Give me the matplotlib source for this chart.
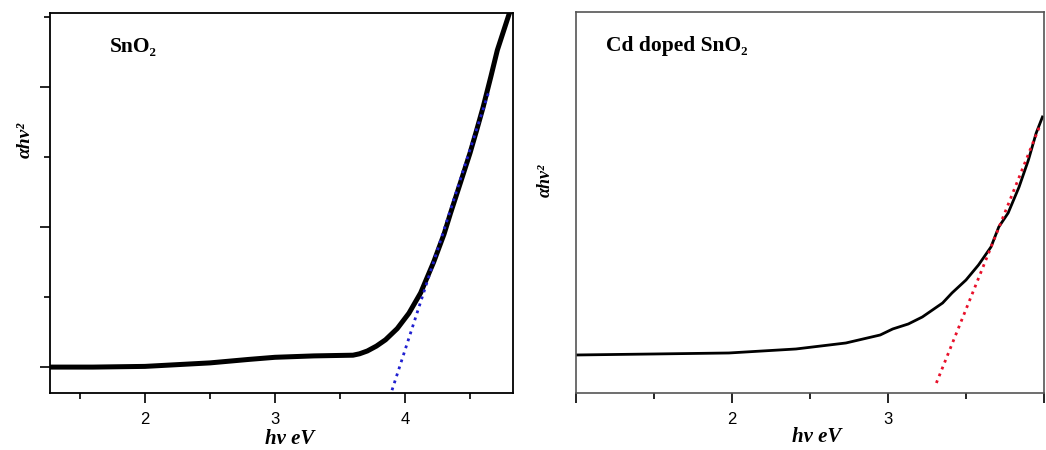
import matplotlib
matplotlib.use("Agg")
import matplotlib.pyplot as plt
from matplotlib.ticker import MultipleLocator, NullFormatter, FixedLocator

# SnO2 Tauc curve (arbitrary y units)
sno2_x = [1.27, 1.6, 2.0, 2.3, 2.5, 2.8, 3.0, 3.3, 3.6, 3.65, 3.71, 3.78, 3.85,
          3.94, 4.03, 4.12, 4.22, 4.30, 4.35, 4.42, 4.50, 4.55, 4.60, 4.66,
          4.71, 4.81]
sno2_y = [0.0, 0.0, 0.01, 0.04, 0.06, 0.11, 0.14, 0.16, 0.17, 0.19, 0.23, 0.30,
          0.39, 0.55, 0.77, 1.06, 1.50, 1.90, 2.20, 2.60, 3.06, 3.38, 3.71,
          4.15, 4.53, 5.10]
sno2_fit_x = [3.90, 4.64]
sno2_fit_y = [-0.33, 3.91]

# Cd doped SnO2 Tauc curve
cd_x = [1.0, 1.5, 1.98, 2.41, 2.73, 2.95, 3.03, 3.13, 3.22, 3.35, 3.41, 3.50,
        3.58, 3.66, 3.71, 3.77, 3.84, 3.90, 3.95, 3.99]
cd_y = [0.38, 0.39, 0.40, 0.44, 0.50, 0.58, 0.64, 0.69, 0.76, 0.90, 1.00, 1.13,
        1.28, 1.46, 1.66, 1.80, 2.06, 2.33, 2.60, 2.76]
cd_fit_x = [3.31, 3.97]
cd_fit_y = [0.10, 2.66]

cd_ticks = [1, 2, 3, 4]
cd_ticklabels = ["", "2", "3", ""]

serif = ["Liberation Serif", "DejaVu Serif"]
plt.rcParams["font.family"] = ["Liberation Sans", "DejaVu Sans"]

fig = plt.figure(figsize=(10.46, 4.5), dpi=100)
ax1 = fig.add_axes([0.0478, 0.1267, 0.4426, 0.8444])
ax2 = fig.add_axes([0.5507, 0.1267, 0.4474, 0.8467])

# left panel
ax1.plot(sno2_x, sno2_y, color="black", lw=3.6, solid_capstyle="round",
         solid_joinstyle="round", zorder=2)
ax1.plot(sno2_fit_x, sno2_fit_y, color="#1f1fd0", lw=2.0, ls=":", zorder=3)
ax1.set_xlim(1.27, 4.83)
ax1.set_ylim(-0.37, 5.06)
ax1.xaxis.set_major_locator(MultipleLocator(1))
ax1.xaxis.set_minor_locator(MultipleLocator(0.5))
ax1.yaxis.set_major_locator(MultipleLocator(2))
ax1.yaxis.set_minor_locator(MultipleLocator(1))
ax1.yaxis.set_major_formatter(NullFormatter())
ax1.tick_params(axis="both", which="major", length=7, width=1.2, direction="out")
ax1.tick_params(axis="both", which="minor", length=4, width=1.2, direction="out")
ax1.tick_params(axis="x", labelsize=12, pad=7)
for sp in ax1.spines.values():
    sp.set_linewidth(1.3)
ax1.text(0.13, 0.91, "SnO₂", transform=ax1.transAxes, fontsize=15.5,
         fontweight="bold", family=serif, va="center")

# right panel
ax2.plot(cd_x, cd_y, color="black", lw=2.0, solid_joinstyle="round", zorder=2)
ax2.plot(cd_fit_x, cd_fit_y, color="#e8102a", lw=2.0, ls=":", zorder=3)
ax2.set_xlim(1.0, 3.99)
ax2.set_ylim(0, 3.81)
ax2.set_xticks(cd_ticks)
ax2.set_xticklabels(cd_ticklabels)
ax2.xaxis.set_minor_locator(FixedLocator([1.5, 2.5, 3.5]))
ax2.set_yticks([])
ax2.tick_params(axis="x", which="major", length=7, width=1.2, labelsize=12, pad=7)
ax2.tick_params(axis="x", which="minor", length=4, width=1.2)
for sp in ax2.spines.values():
    sp.set_linewidth(1.2)
    sp.set_color("#555555")
ax2.text(0.065, 0.91, "Cd doped SnO₂", transform=ax2.transAxes,
         fontsize=15.5, fontweight="bold", family=serif, va="center")

# axis labels
fig.text(0.277, 0.025, "hv eV", fontsize=15, fontweight="bold", style="italic",
         family=serif, ha="center", va="center")
fig.text(0.781, 0.03, "hv eV", fontsize=15, fontweight="bold", style="italic",
         family=serif, ha="center", va="center")
fig.text(0.024, 0.69, "αhv²", fontsize=14, fontweight="bold", style="italic",
         family=serif, ha="center", va="center", rotation=90)
fig.text(0.521, 0.60, "αhv²", fontsize=13, fontweight="bold", style="italic",
         family=serif, ha="center", va="center", rotation=90)

fig.savefig("out.png", dpi=100)
